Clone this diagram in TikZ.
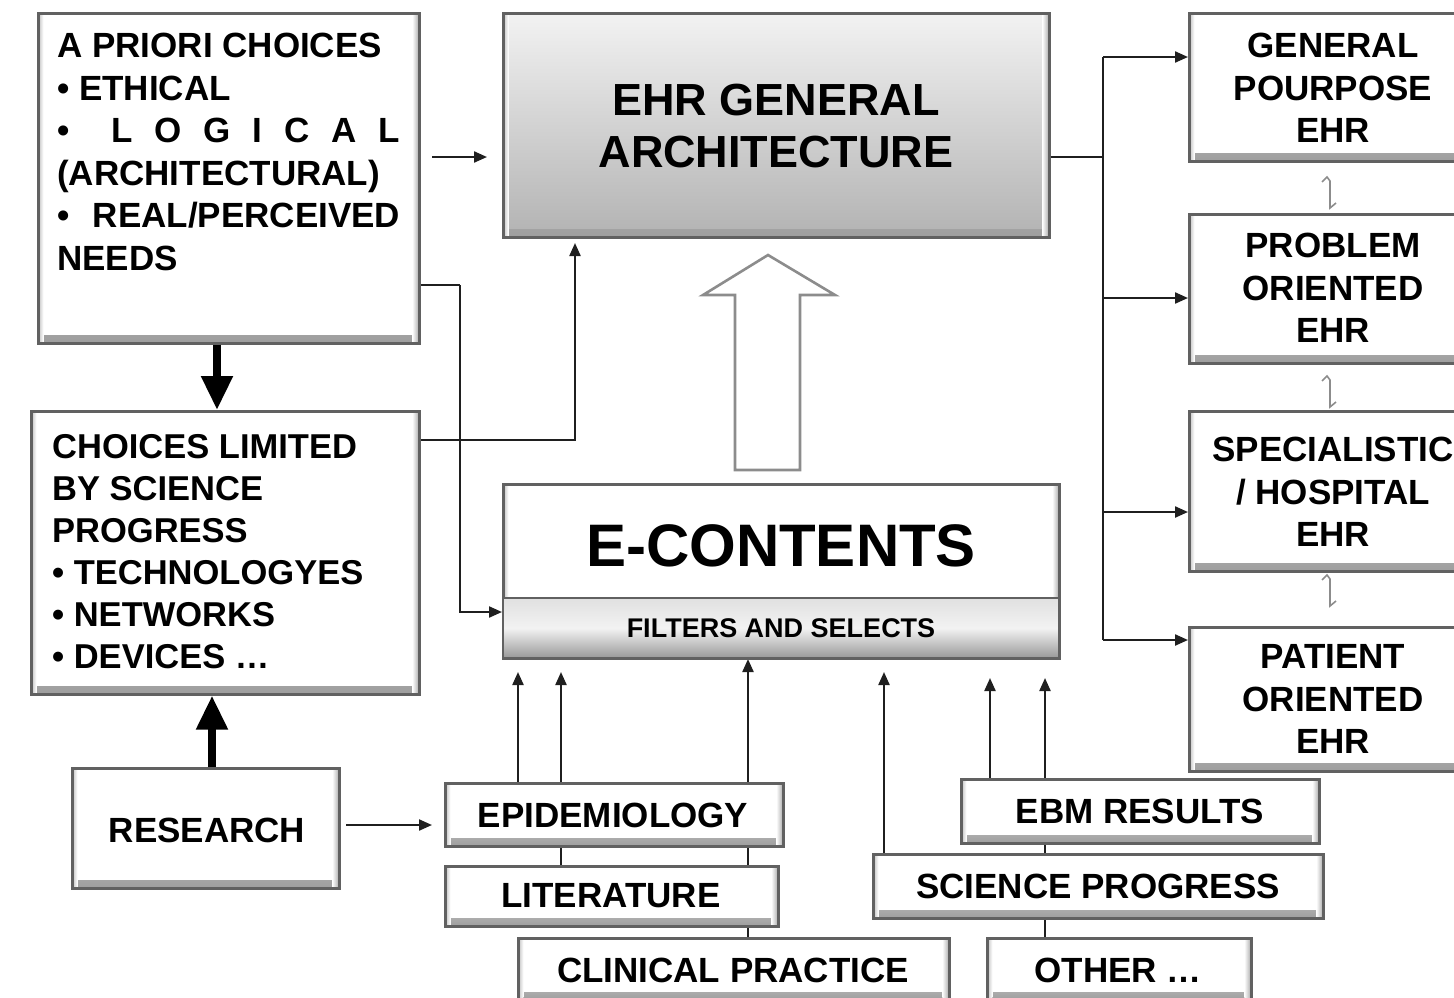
\documentclass[tikz,border=0pt]{standalone}
\usepackage{fontspec}
\setmainfont{Liberation Sans}
\usetikzlibrary{arrows.meta}
\begin{document}
\begin{tikzpicture}[x=1pt,y=-1pt,
  bevelbox/.style={draw=black!62, line width=2.6pt, fill=white, inner sep=0pt, anchor=north west,
    path picture={
      \shade[top color=white, bottom color=black!38] ([yshift=8pt]path picture bounding box.south west) rectangle (path picture bounding box.south east);
      \shade[left color=white, right color=black!35] ([xshift=-7pt]path picture bounding box.north east) rectangle (path picture bounding box.south east);
      \shade[left color=black!25, right color=white] (path picture bounding box.north west) rectangle ([xshift=5pt]path picture bounding box.south west);
    }},
  graybox/.style={bevelbox, top color=black!5, bottom color=black!30},
  stripbox/.style={draw=black!62, line width=2.2pt, inner sep=0pt, anchor=north west,
    top color=black!12, bottom color=black!40, middle color=black!5},
  label/.style={font=\bfseries\fontsize{35}{42.5}\selectfont, inner sep=0pt},
  leftlabel/.style={label, align=left, anchor=north west},
  midlabel/.style={label, align=center},
  thinline/.style={draw=black!88, line width=2.2pt},
  thinarrow/.style={thinline, -{Triangle[length=13pt,width=11pt]}},
  bigarrow/.style={draw=black, line width=8pt, -{Triangle[length=34pt,width=30pt]}},
  hollow/.style={draw=black!45, line width=2.6pt, fill=white, line join=miter},
  tick/.style={draw=black!45, line width=1.6pt}
]
\useasboundingbox (0,0) rectangle (1454,997);

% ---------- connectors drawn first so boxes sit on top ----------
\coordinate (fromA) at (418,285);
\coordinate (turnA) at (460,285);
\coordinate (intoF) at (502,612);
\coordinate (fromC) at (418,440);
\coordinate (turnC) at (575,440);
\coordinate (intoEHR) at (575,243);
\draw[thinline] (fromA) -- (turnA);
\draw[thinarrow] (turnA) |- (intoF);
\draw[thinarrow] (fromC) -- (turnC) -- (intoEHR);

% rising inputs into the filter strip (they pass behind the stacked boxes)
\coordinate (u1) at (518,672);
\coordinate (u2) at (561,672);
\coordinate (u3) at (748,659);
\coordinate (u4) at (884,672);
\coordinate (u5) at (990,678);
\coordinate (u6) at (1045,678);
\draw[thinarrow] (518,790) -- (u1);
\draw[thinarrow] (561,880) -- (u2);
\draw[thinarrow] (748,950) -- (u3);
\draw[thinarrow] (884,860) -- (u4);
\draw[thinarrow] (990,790) -- (u5);
\draw[thinarrow] (1045,950) -- (u6);

% ---------- boxes ----------
\node[bevelbox, minimum width=381pt, minimum height=330pt] (apriori) at (37,12) {};
\node[graybox, minimum width=546pt, minimum height=224pt] (ehr) at (502,12) {};
\node[bevelbox, minimum width=388pt, minimum height=283pt] (limited) at (30,410) {};
\node[bevelbox, minimum width=267pt, minimum height=120pt] (research) at (71,767) {};

\node[bevelbox, minimum width=300pt, minimum height=148pt] (gp) at (1188,12) {};
\node[bevelbox, minimum width=300pt, minimum height=149pt] (po) at (1188,213) {};
\node[bevelbox, minimum width=300pt, minimum height=160pt] (sp) at (1188,410) {};
\node[bevelbox, minimum width=300pt, minimum height=144pt] (pt) at (1188,626) {};

\node[bevelbox, minimum width=556pt, minimum height=174pt] (econt) at (502,483) {};
\node[stripbox, minimum width=556pt, minimum height=60pt] (filter) at (502,597) {};

\node[bevelbox, minimum width=338pt, minimum height=63pt] (epi) at (444,782) {};
\node[bevelbox, minimum width=333pt, minimum height=60pt] (lit) at (444,865) {};
\node[bevelbox, minimum width=431pt, minimum height=62pt] (clin) at (517,937) {};
\node[bevelbox, minimum width=358pt, minimum height=64pt] (ebm) at (960,778) {};
\node[bevelbox, minimum width=450pt, minimum height=64pt] (sci) at (872,853) {};
\node[bevelbox, minimum width=264pt, minimum height=62pt] (other) at (986,937) {};

% ---------- texts ----------
\node[leftlabel] (tA) at (57,33) {A PRIORI CHOICES\\
  • ETHICAL\\
  \hbox to 343pt{•\hskip 42pt L\hfill O\hfill G\hfill I\hfill C\hfill A\hfill L}\\
  (ARCHITECTURAL)\\
  \hbox to 343pt{•\hfill REAL/PERCEIVED}\\
  NEEDS};
\node[midlabel, font=\bfseries\fontsize{45}{52}\selectfont] (tEHR) at (776,126) {EHR GENERAL\\ARCHITECTURE};
\node[leftlabel, font=\bfseries\fontsize{34.5}{42}\selectfont] (tC) at (52,434) {CHOICES LIMITED\\
  BY SCIENCE\\
  PROGRESS\\
  • TECHNOLOGYES\\
  • NETWORKS\\
  • DEVICES …};
\node[midlabel] (tR) at (207,830) {RESEARCH};

\node[midlabel] (tGP) at (1333,88) {GENERAL\\POURPOSE\\EHR};
\node[midlabel] (tPO) at (1333,288) {PROBLEM\\ORIENTED\\EHR};
\node[midlabel] (tSP) at (1333,492) {SPECIALISTIC\\/ HOSPITAL\\EHR};
\node[midlabel] (tPT) at (1333,699) {PATIENT\\ORIENTED\\EHR};

\node[midlabel, font=\bfseries\fontsize{60}{60}\selectfont] (tE) at (781,546) {E-CONTENTS};
\node[midlabel, font=\bfseries\fontsize{27}{27}\selectfont] (tF) at (781,628) {FILTERS AND SELECTS};

\node[midlabel] (tEpi) at (613,815) {EPIDEMIOLOGY};
\node[midlabel] (tLit) at (611,896) {LITERATURE};
\node[midlabel] (tClin) at (733,970) {CLINICAL PRACTICE};
\node[midlabel] (tEbm) at (1140,811) {EBM RESULTS};
\node[midlabel] (tSci) at (1098,886) {SCIENCE PROGRESS};
\node[midlabel] (tOth) at (1118,970) {OTHER …};

% ---------- arrows between the main blocks ----------
\coordinate (aOut) at (432,157);
\coordinate (aIn) at (487,157);
\draw[thinarrow] (aOut) -- (aIn);

\coordinate (bus) at (1103,157);
\draw[thinline] (ehr.east |- bus) -- (bus);
\draw[thinline] (1103,57) -- (1103,640);
\draw[thinarrow] (1103,57) -- (gp.west |- 0,57);
\draw[thinarrow] (1103,298) -- (po.west |- 0,298);
\draw[thinarrow] (1103,512) -- (sp.west |- 0,512);
\draw[thinarrow] (1103,640) -- (pt.west |- 0,640);

\draw[bigarrow] (apriori.south -| 217,0) -- (limited.north -| 217,0);
\draw[bigarrow] (research.north -| 212,0) -- (limited.south -| 212,0);

\coordinate (rOut) at (346,825);
\coordinate (rIn) at (432,825);
\draw[thinarrow] (rOut) -- (rIn);

% wide hollow arrow from E-CONTENTS up to the architecture
\draw[hollow] (735,470) -- (735,295) -- (703,295) -- (768,255) -- (835,295) -- (800,295) -- (800,470) -- cycle;

% small link marks between the EHR variants
\draw[tick] (1322,182) -- (1327,177) -- (1330,181) -- (1330,208) -- (1336,203);
\draw[tick] (1322,381) -- (1327,376) -- (1330,380) -- (1330,407) -- (1336,402);
\draw[tick] (1322,580) -- (1327,575) -- (1330,579) -- (1330,606) -- (1336,601);
\end{tikzpicture}
\end{document}
